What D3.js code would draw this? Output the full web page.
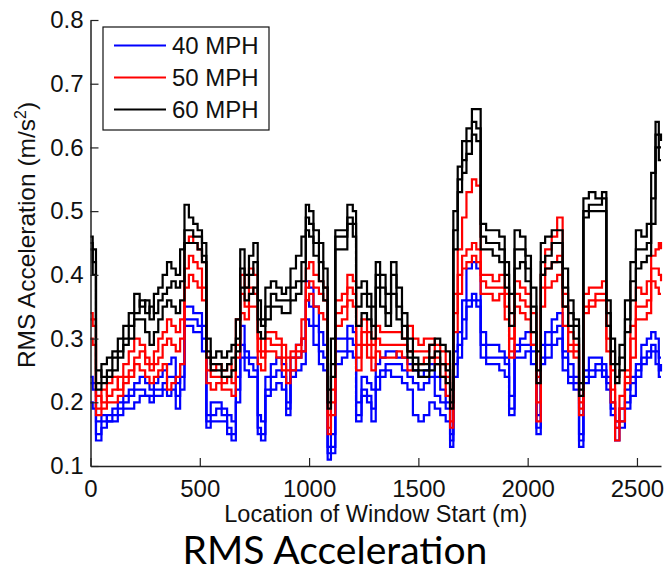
<!DOCTYPE html>
<html>
<head>
<meta charset="utf-8">
<script src="https://cdn.jsdelivr.net/npm/d3@7"></script>
<style>
  body { margin: 0; background: #fff; }
  text { font-family: "Liberation Sans", Arial, sans-serif; fill: #111; }
</style>
</head>
<body>
<div id="chart"></div>
<script>
// Window start locations (m), shared by every run
const windowStart = [0,10,25,50,75,100,125,150,175,200,
  225,250,270,290,310,330,350,370,390,410,
  430,450,470,490,510,530,550,575,600,625,
  645,665,685,705,725,745,765,780,800,825,
  850,875,895,915,940,965,985,1000,1020,1045,
  1065,1085,1100,1120,1150,1175,1200,1215,1240,1265,
  1285,1305,1325,1350,1375,1400,1425,1450,1475,1500,
  1525,1550,1575,1600,1625,1645,1660,1680,1700,1720,
  1745,1765,1785,1810,1840,1870,1895,1915,1940,1965,
  1990,2015,2040,2060,2080,2110,2135,2160,2185,2210,
  2235,2255,2280,2310,2340,2360,2380,2400,2420,2445,
  2470,2495,2520,2545,2565,2585,2600,2610];

// 40 MPH runs
const mph40a = [0.24,0.23,0.15,0.17,0.18,0.19,0.20,0.21,0.22,0.23,
  0.24,0.23,0.22,0.23,0.24,0.25,0.26,0.27,0.23,0.26,
  0.35,0.35,0.34,0.34,0.32,0.18,0.20,0.20,0.19,0.18,
  0.17,0.24,0.32,0.28,0.27,0.27,0.18,0.17,0.24,0.26,
  0.27,0.26,0.20,0.27,0.29,0.30,0.39,0.38,0.35,0.31,
  0.29,0.13,0.15,0.30,0.30,0.32,0.31,0.20,0.24,0.23,
  0.22,0.26,0.27,0.28,0.28,0.27,0.27,0.26,0.25,0.24,
  0.25,0.26,0.24,0.22,0.20,0.15,0.28,0.31,0.36,0.41,
  0.42,0.41,0.31,0.29,0.29,0.28,0.27,0.21,0.29,0.30,
  0.31,0.29,0.18,0.29,0.31,0.33,0.34,0.28,0.26,0.24,
  0.15,0.25,0.27,0.27,0.26,0.24,0.20,0.17,0.19,0.22,
  0.24,0.26,0.29,0.30,0.31,0.30,0.27,0.27];
const mph40b = [0.23,0.22,0.17,0.18,0.17,0.18,0.19,0.20,0.21,0.22,
  0.22,0.21,0.21,0.22,0.22,0.23,0.24,0.24,0.21,0.24,
  0.33,0.33,0.33,0.32,0.30,0.17,0.18,0.19,0.18,0.16,
  0.15,0.22,0.29,0.27,0.26,0.25,0.16,0.15,0.22,0.24,
  0.25,0.24,0.19,0.25,0.27,0.28,0.36,0.35,0.32,0.28,
  0.27,0.12,0.13,0.28,0.28,0.30,0.29,0.18,0.22,0.21,
  0.19,0.24,0.25,0.26,0.26,0.26,0.25,0.24,0.23,0.22,
  0.23,0.24,0.21,0.20,0.19,0.14,0.26,0.29,0.33,0.36,
  0.37,0.36,0.29,0.27,0.27,0.27,0.26,0.19,0.28,0.29,
  0.29,0.28,0.16,0.27,0.29,0.31,0.32,0.27,0.24,0.23,
  0.14,0.24,0.25,0.26,0.25,0.23,0.19,0.16,0.17,0.20,
  0.23,0.25,0.27,0.28,0.29,0.28,0.25,0.26];
const mph40c = [0.20,0.19,0.14,0.16,0.17,0.17,0.18,0.19,0.19,0.20,
  0.21,0.21,0.20,0.21,0.21,0.22,0.21,0.22,0.19,0.22,
  0.32,0.32,0.31,0.31,0.28,0.16,0.17,0.17,0.17,0.15,
  0.14,0.20,0.27,0.25,0.24,0.24,0.15,0.14,0.21,0.22,
  0.23,0.22,0.18,0.24,0.25,0.26,0.33,0.32,0.29,0.26,
  0.25,0.11,0.12,0.26,0.27,0.28,0.27,0.17,0.21,0.20,
  0.17,0.22,0.24,0.25,0.24,0.24,0.23,0.22,0.18,0.17,
  0.18,0.20,0.19,0.18,0.17,0.13,0.24,0.27,0.30,0.35,
  0.36,0.35,0.27,0.26,0.26,0.25,0.24,0.18,0.27,0.27,
  0.28,0.26,0.15,0.26,0.27,0.29,0.30,0.25,0.23,0.22,
  0.13,0.23,0.24,0.25,0.24,0.22,0.18,0.14,0.16,0.19,
  0.21,0.24,0.26,0.27,0.28,0.26,0.24,0.24];

// 50 MPH runs
const mph50a = [0.34,0.33,0.19,0.22,0.21,0.22,0.24,0.26,0.28,0.30,
  0.29,0.27,0.26,0.28,0.30,0.31,0.33,0.32,0.31,0.33,
  0.45,0.46,0.45,0.44,0.42,0.27,0.25,0.26,0.25,0.26,
  0.25,0.33,0.40,0.38,0.41,0.40,0.30,0.28,0.31,0.31,
  0.30,0.29,0.27,0.28,0.29,0.33,0.41,0.42,0.40,0.39,
  0.38,0.18,0.22,0.36,0.37,0.40,0.39,0.29,0.33,0.31,
  0.29,0.32,0.31,0.31,0.31,0.31,0.30,0.32,0.30,0.29,
  0.30,0.30,0.29,0.28,0.26,0.19,0.37,0.44,0.49,0.53,
  0.55,0.54,0.40,0.40,0.39,0.40,0.37,0.30,0.39,0.38,
  0.37,0.34,0.24,0.40,0.44,0.46,0.49,0.37,0.31,0.29,
  0.20,0.37,0.38,0.38,0.39,0.32,0.25,0.17,0.21,0.25,
  0.32,0.38,0.37,0.39,0.43,0.44,0.45,0.44];
const mph50b = [0.33,0.32,0.21,0.20,0.23,0.24,0.22,0.24,0.25,0.27,
  0.28,0.26,0.25,0.26,0.27,0.29,0.30,0.29,0.28,0.30,
  0.41,0.43,0.42,0.41,0.38,0.25,0.24,0.24,0.23,0.24,
  0.23,0.29,0.37,0.35,0.38,0.37,0.28,0.27,0.30,0.29,
  0.29,0.27,0.25,0.27,0.28,0.30,0.38,0.39,0.38,0.37,
  0.36,0.16,0.20,0.34,0.35,0.38,0.37,0.27,0.31,0.29,
  0.27,0.30,0.29,0.29,0.29,0.29,0.29,0.28,0.28,0.28,
  0.28,0.29,0.27,0.26,0.24,0.17,0.34,0.40,0.43,0.44,
  0.45,0.44,0.39,0.38,0.38,0.38,0.35,0.28,0.37,0.36,
  0.35,0.31,0.20,0.38,0.41,0.42,0.43,0.35,0.29,0.28,
  0.19,0.35,0.36,0.37,0.37,0.30,0.22,0.16,0.19,0.24,
  0.30,0.35,0.35,0.36,0.41,0.41,0.40,0.39];
const mph50c = [0.30,0.29,0.18,0.19,0.20,0.20,0.21,0.23,0.24,0.26,
  0.25,0.24,0.23,0.24,0.25,0.26,0.22,0.23,0.24,0.26,
  0.38,0.40,0.39,0.38,0.36,0.23,0.22,0.23,0.22,0.22,
  0.21,0.27,0.34,0.33,0.35,0.35,0.26,0.25,0.28,0.28,
  0.27,0.25,0.23,0.25,0.27,0.28,0.36,0.37,0.35,0.34,
  0.33,0.15,0.18,0.32,0.33,0.36,0.35,0.25,0.29,0.27,
  0.25,0.28,0.27,0.27,0.27,0.28,0.27,0.25,0.26,0.26,
  0.27,0.27,0.26,0.24,0.21,0.16,0.31,0.37,0.41,0.42,
  0.43,0.42,0.37,0.37,0.36,0.37,0.33,0.27,0.35,0.34,
  0.33,0.29,0.17,0.35,0.38,0.39,0.40,0.32,0.28,0.27,
  0.18,0.34,0.35,0.36,0.36,0.28,0.20,0.14,0.17,0.23,
  0.27,0.33,0.33,0.34,0.39,0.38,0.37,0.37];

// 60 MPH runs
const mph60a = [0.46,0.44,0.23,0.26,0.27,0.28,0.30,0.32,0.34,0.37,
  0.35,0.36,0.33,0.37,0.38,0.40,0.42,0.41,0.40,0.44,
  0.51,0.49,0.48,0.47,0.45,0.30,0.27,0.28,0.27,0.28,
  0.29,0.33,0.44,0.40,0.43,0.45,0.36,0.33,0.38,0.39,
  0.38,0.37,0.38,0.41,0.43,0.46,0.51,0.50,0.47,0.45,
  0.41,0.22,0.30,0.47,0.47,0.51,0.50,0.38,0.39,0.37,
  0.35,0.42,0.40,0.37,0.42,0.38,0.34,0.30,0.27,0.26,
  0.26,0.29,0.30,0.29,0.28,0.22,0.50,0.57,0.61,0.63,
  0.66,0.66,0.48,0.47,0.47,0.46,0.42,0.37,0.47,0.46,
  0.43,0.38,0.28,0.45,0.46,0.47,0.47,0.41,0.36,0.33,
  0.23,0.52,0.53,0.52,0.53,0.36,0.30,0.26,0.29,0.36,
  0.42,0.47,0.46,0.48,0.56,0.64,0.62,0.61];
const mph60b = [0.45,0.42,0.25,0.24,0.25,0.27,0.28,0.30,0.32,0.34,
  0.36,0.34,0.35,0.34,0.36,0.37,0.38,0.39,0.38,0.39,
  0.47,0.47,0.46,0.46,0.43,0.28,0.26,0.26,0.25,0.26,
  0.27,0.30,0.41,0.38,0.40,0.42,0.33,0.32,0.35,0.37,
  0.36,0.36,0.36,0.38,0.39,0.42,0.49,0.48,0.45,0.42,
  0.38,0.20,0.26,0.46,0.46,0.49,0.48,0.35,0.37,0.35,
  0.32,0.40,0.38,0.34,0.40,0.35,0.32,0.28,0.26,0.25,
  0.25,0.27,0.28,0.26,0.25,0.20,0.47,0.55,0.58,0.61,
  0.64,0.63,0.46,0.45,0.45,0.44,0.40,0.34,0.44,0.44,
  0.41,0.35,0.25,0.42,0.43,0.45,0.45,0.38,0.34,0.32,
  0.22,0.50,0.51,0.51,0.52,0.34,0.28,0.24,0.27,0.33,
  0.39,0.44,0.44,0.45,0.52,0.62,0.60,0.60];
const mph60c = [0.44,0.40,0.22,0.23,0.24,0.25,0.27,0.29,0.30,0.33,
  0.33,0.31,0.29,0.31,0.33,0.35,0.36,0.35,0.34,0.36,
  0.45,0.45,0.45,0.44,0.42,0.27,0.25,0.25,0.24,0.24,
  0.25,0.28,0.38,0.36,0.37,0.38,0.31,0.30,0.33,0.35,
  0.35,0.34,0.34,0.36,0.37,0.39,0.47,0.46,0.43,0.39,
  0.36,0.19,0.24,0.44,0.44,0.48,0.46,0.32,0.34,0.33,
  0.30,0.38,0.35,0.32,0.37,0.33,0.30,0.27,0.25,0.24,
  0.24,0.25,0.26,0.24,0.23,0.19,0.44,0.53,0.56,0.59,
  0.62,0.61,0.44,0.44,0.43,0.42,0.38,0.32,0.41,0.42,
  0.39,0.31,0.23,0.40,0.41,0.42,0.42,0.35,0.32,0.30,
  0.21,0.49,0.50,0.50,0.50,0.32,0.26,0.23,0.25,0.31,
  0.36,0.41,0.42,0.43,0.48,0.60,0.58,0.58];

const speeds = ["40 MPH", "50 MPH", "60 MPH"];
const colors = ["#0000ff", "#ff0000", "#000000"];
const runs = [
  { speed: 0, values: mph40a }, { speed: 0, values: mph40b }, { speed: 0, values: mph40c },
  { speed: 1, values: mph50a }, { speed: 1, values: mph50b }, { speed: 1, values: mph50c },
  { speed: 2, values: mph60a }, { speed: 2, values: mph60b }, { speed: 2, values: mph60c }
];
const yTicks = [0.1, 0.2, 0.3, 0.4, 0.5, 0.6, 0.7, 0.8];
const xTicks = [0, 500, 1000, 1500, 2000, 2500];

const width = 666, height = 573;
const margin = { top: 20, right: 5, bottom: 107, left: 90.5 };

const svg = d3.select("#chart").append("svg")
  .attr("width", width)
  .attr("height", height)
  .style("background", "#fff");

const x = d3.scaleLinear()
  .domain([0, 2610])
  .range([margin.left, width - margin.right]);

const y = d3.scaleLinear()
  .domain([0.1, 0.8])
  .range([height - margin.bottom, margin.top]);

// data lines: 40 first, 60 on top (MATLAB plot order)
const line = d3.line()
  .x((d, i) => x(windowStart[i]))
  .y(d => y(d))
  .curve(d3.curveStepAfter);

svg.append("g")
  .selectAll("path")
  .data(runs)
  .join("path")
  .attr("d", d => line(d.values))
  .attr("fill", "none")
  .attr("stroke", d => colors[d.speed])
  .attr("stroke-width", 2.2)
  .attr("stroke-linejoin", "miter");

// axes, ticks pointing inward, no box
const xAxis = svg.append("g")
  .attr("transform", `translate(0,${height - margin.bottom})`)
  .call(d3.axisBottom(x).tickValues(xTicks).tickFormat(d3.format("d"))
    .tickSizeInner(-8).tickSizeOuter(0).tickPadding(14));

const yAxis = svg.append("g")
  .attr("transform", `translate(${margin.left},0)`)
  .call(d3.axisLeft(y).tickValues(yTicks).tickFormat(d3.format(".1f"))
    .tickSizeInner(-8).tickSizeOuter(0).tickPadding(7));

[xAxis, yAxis].forEach(g => {
  g.select(".domain").attr("stroke", "#222").attr("stroke-width", 1.5);
  g.selectAll(".tick line").attr("stroke", "#222").attr("stroke-width", 1.2);
  g.selectAll(".tick text")
    .attr("fill", "#111")
    .style("font-family", '"Liberation Sans", Arial, sans-serif')
    .style("font-size", "24px");
});

// axis labels
svg.append("text")
  .attr("x", (margin.left + width - margin.right) / 2)
  .attr("y", 522)
  .attr("text-anchor", "middle")
  .style("font-size", "23.5px")
  .text("Location of Window Start (m)");

const yLabel = svg.append("text")
  .attr("transform", "rotate(-90)")
  .attr("x", -(margin.top + height - margin.bottom) / 2 + 8)
  .attr("y", 35)
  .attr("text-anchor", "middle")
  .style("font-size", "24.5px");
yLabel.append("tspan").text("RMS Acceleration (m/s");
yLabel.append("tspan").attr("dy", -9).style("font-size", "16px").text("2");
yLabel.append("tspan").attr("dy", 9).text(")");

// big caption under the plot
const title = svg.append("text")
  .attr("x", 335)
  .attr("y", 564)
  .attr("text-anchor", "middle")
  .style("font-family", 'Lato, "Open Sans", sans-serif')
  .style("font-size", "40px")
  .style("fill", "#000")
  .text("RMS Acceleration");
const tw = title.node().getComputedTextLength();
title.style("font-size", (40 * 305 / tw).toFixed(1) + "px");

// legend
const legend = svg.append("g").attr("transform", "translate(103,27)");
legend.append("rect")
  .attr("width", 166).attr("height", 103)
  .attr("fill", "#fff").attr("stroke", "#111").attr("stroke-width", 1.2);
speeds.forEach((s, i) => {
  const cy = 18.5 + i * 32;
  legend.append("line")
    .attr("x1", 11).attr("x2", 63)
    .attr("y1", cy).attr("y2", cy)
    .attr("stroke", colors[i]).attr("stroke-width", 2.2);
  legend.append("text")
    .attr("x", 69).attr("y", cy + 8.5)
    .style("font-size", "24px")
    .text(s);
});
</script>
</body>
</html>
